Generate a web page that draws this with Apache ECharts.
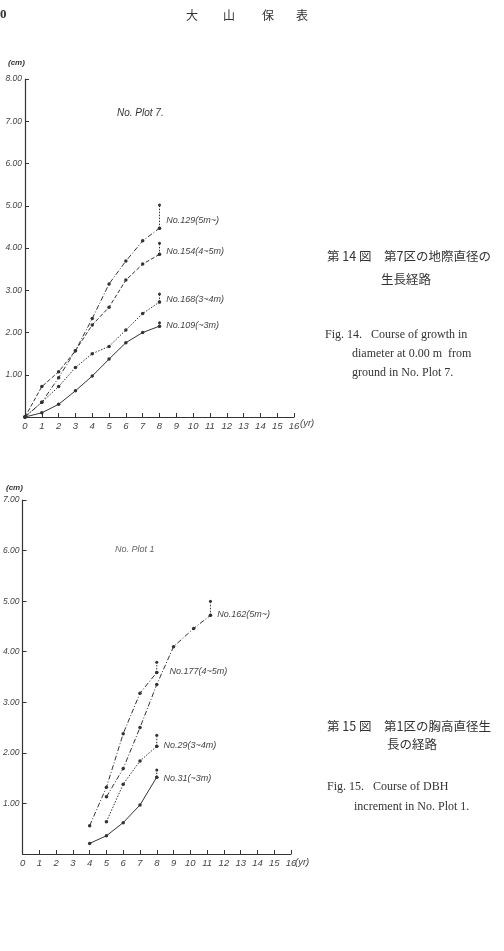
<!DOCTYPE html>
<html><head><meta charset="utf-8">
<script src="https://cdn.jsdelivr.net/npm/echarts@6/dist/echarts.min.js"></script>
<style>html,body{margin:0;padding:0;background:#fff}#c{width:504px;height:951px}</style>
</head><body><div id="c"></div>
<script>
// ---- data: Fig.14 (No. Plot 7) ----
const years7 = [0,1,2,3,4,5,6,7,8];
const no129 = [0,0.35,0.93,1.57,2.33,3.15,3.69,4.17,4.47];
const no154 = [0,0.72,1.07,1.57,2.18,2.60,3.24,3.62,3.85];
const no168 = [0,0.35,0.72,1.17,1.50,1.67,2.06,2.45,2.72];
const no109 = [0,0.10,0.30,0.62,0.97,1.37,1.76,2.00,2.15];
const ext129 = 5.02, ext154 = 4.11, ext168 = 2.91, ext109 = 2.23;
// ---- data: Fig.15 (No. Plot 1) ----
const years162 = [5,6,7,8,9,10.2,11.2];
const no162 = [1.13,1.69,2.50,3.35,4.10,4.46,4.72];
const years177 = [4,5,6,7,8];
const no177 = [0.56,1.32,2.38,3.18,3.59];
const years29 = [5,6,7,8];
const no29 = [0.64,1.38,1.84,2.13];
const years31 = [4,5,6,7,8];
const no31 = [0.21,0.36,0.62,0.97,1.52];
const ext162 = 5.00, ext177 = 3.79, ext29 = 2.35, ext31 = 1.66;
const xTicks = [0,1,2,3,4,5,6,7,8,9,10,11,12,13,14,15,16];

const INK = '#333';
const LABEL_FONT = 'Liberation Sans';

function mainSeries(g, xs, ys, name, dash, offset) {
  return {
    type:'line', xAxisIndex:g, yAxisIndex:g, symbol:'circle', symbolSize:3.5,
    itemStyle:{color:INK}, lineStyle:{color:INK, width:1, type:dash},
    data: xs.map((x,i)=>{
      const d = {value:[x,ys[i]]};
      if (i === xs.length-1) d.label = {show:true, position:'right', formatter:name,
        offset:offset, fontFamily:LABEL_FONT, fontStyle:'italic', fontSize:9, color:'#444'};
      return d;
    })
  };
}
function extSeries(g, xs, ys, top) {
  const x = xs[xs.length-1], y = ys[ys.length-1];
  return {
    type:'line', xAxisIndex:g, yAxisIndex:g, symbol:'circle', symbolSize:3,
    itemStyle:{color:INK}, lineStyle:{color:INK, width:1, type:[1.5,1.5]},
    data:[[x,y],[x,top]]
  };
}
function xAxisCfg(g){
  return {type:'value', gridIndex:g, min:0, max:16, interval:1,
    axisLine:{lineStyle:{color:INK, width:1.2}},
    axisTick:{inside:true, length:4, lineStyle:{color:INK}},
    splitLine:{show:false},
    axisLabel:{color:'#444', fontFamily:LABEL_FONT, fontStyle:'italic', fontSize:9.5, margin:4}};
}
function yAxisCfg(g, max){
  return {type:'value', gridIndex:g, min:0, max:max, interval:1,
    axisLine:{show:true, lineStyle:{color:INK, width:1.2}},
    axisTick:{show:true, inside:true, length:4, lineStyle:{color:INK}},
    splitLine:{show:false},
    axisLabel:{color:'#444', fontFamily:LABEL_FONT, fontStyle:'italic', fontSize:8.5, margin:3,
      formatter:v=> v===0 ? '' : v.toFixed(2)}};
}
function txt(x,y,t,o){
  return {type:'text', x:x, y:y, style:Object.assign({text:t, fill:'#333', fontSize:12,
    fontFamily:'Liberation Serif', textVerticalAlign:'middle'}, o||{})};
}
const CJK = '"Noto Sans CJK JP"';
const chart = echarts.init(document.getElementById('c'), null, {renderer:'canvas'});
chart.setOption({
  animation:false,
  backgroundColor:'#fff',
  grid:[{left:25, top:79, width:269, height:338},{left:22, top:500, width:269, height:354}],
  xAxis:[xAxisCfg(0), xAxisCfg(1)],
  yAxis:[yAxisCfg(0,8), yAxisCfg(1,7)],
  series:[
    mainSeries(0, years7, no129, 'No.129(5m~)', [5,2,1,2], [0,-8]),
    extSeries(0, years7, no129, ext129),
    mainSeries(0, years7, no154, 'No.154(4~5m)', [4,2], [0,-3]),
    extSeries(0, years7, no154, ext154),
    mainSeries(0, years7, no168, 'No.168(3~4m)', [1.5,1.5], [0,-3]),
    extSeries(0, years7, no168, ext168),
    mainSeries(0, years7, no109, 'No.109(~3m)', 'solid', [0,-1]),
    extSeries(0, years7, no109, ext109),
    mainSeries(1, years162, no162, 'No.162(5m~)', [5,2,1,2], [0,-1]),
    extSeries(1, years162, no162, ext162),
    mainSeries(1, years177, no177, 'No.177(4~5m)', [5,2,1,2], [6,-1]),
    extSeries(1, years177, no177, ext177),
    mainSeries(1, years29, no29, 'No.29(3~4m)', [1.5,1.5], [0,-1]),
    extSeries(1, years29, no29, ext29),
    mainSeries(1, years31, no31, 'No.31(~3m)', 'solid', [0,1])
    , extSeries(1, years31, no31, ext31)
  ],
  graphic:[
    txt(0,15,'0',{fontSize:13, fontWeight:'bold'}),
    txt(186,15,'大',{fontFamily:CJK, fontSize:12}),
    txt(223,15,'山',{fontFamily:CJK, fontSize:12}),
    txt(262,15,'保',{fontFamily:CJK, fontSize:12}),
    txt(296,15,'表',{fontFamily:CJK, fontSize:12}),
    // Fig 14
    txt(8,63,'(cm)',{fontFamily:LABEL_FONT, fontSize:8, fontStyle:'italic', fontWeight:'bold'}),
    txt(117,113,'No. Plot 7.',{fontFamily:LABEL_FONT, fontSize:10, fontStyle:'italic'}),
    txt(300,423,'(yr)',{fontFamily:LABEL_FONT, fontSize:9.5, fontStyle:'italic', fill:'#444'}),
    txt(327,256,'第 14 図　第7区の地際直径の',{fontFamily:CJK, fontSize:12.5}),
    txt(381,279,'生長経路',{fontFamily:CJK, fontSize:12.5}),
    txt(325,335,'Fig. 14.   Course of growth in'),
    txt(352,354,'diameter at 0.00 m  from'),
    txt(352,373,'ground in No. Plot 7.'),
    // Fig 15
    txt(6,488,'(cm)',{fontFamily:LABEL_FONT, fontSize:8, fontStyle:'italic', fontWeight:'bold'}),
    txt(115,549,'No. Plot 1',{fontFamily:LABEL_FONT, fontSize:9, fontStyle:'italic', fill:'#666'}),
    txt(295,862,'(yr)',{fontFamily:LABEL_FONT, fontSize:9.5, fontStyle:'italic', fill:'#444'}),
    txt(327,726,'第 15 図　第1区の胸高直径生',{fontFamily:CJK, fontSize:12.5}),
    txt(387,744,'長の経路',{fontFamily:CJK, fontSize:12.5}),
    txt(327,787,'Fig. 15.   Course of DBH'),
    txt(354,807,'increment in No. Plot 1.')
  ]
});
</script></body></html>
